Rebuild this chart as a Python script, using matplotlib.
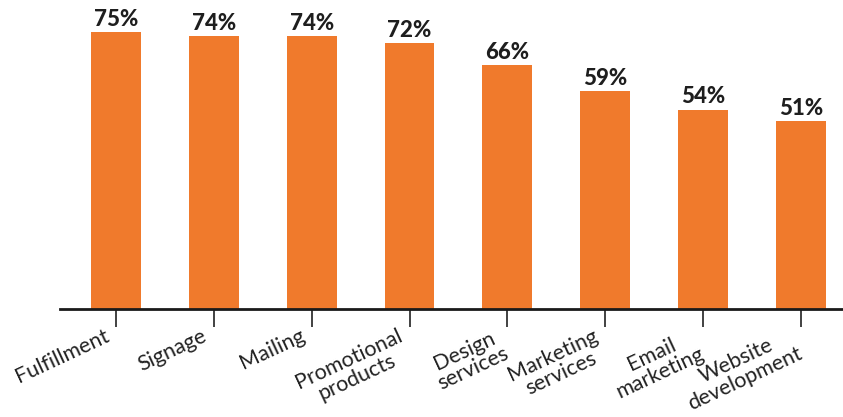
import matplotlib.pyplot as plt

# Data
categories = ["Fulfillment", "Signage", "Mailing", "Promotional\nproducts",
              "Design\nservices", "Marketing\nservices", "Email\nmarketing",
              "Website\ndevelopment"]
values = [75, 74, 74, 72, 66, 59, 54, 51]
value_labels = ["75%", "74%", "74%", "72%", "66%", "59%", "54%", "51%"]

plt.rcParams['font.family'] = ['Lato', 'DejaVu Sans']

fig = plt.figure(figsize=(8.43, 4.17), dpi=100)
ax = fig.add_axes([60 / 843, 1 - 309 / 417, 783 / 843, 309 / 417])

x = list(range(len(categories)))
ax.bar(x, values, width=0.51, color="#F07A2C", zorder=2)

for xi, v, lab in zip(x, values, value_labels):
    ax.annotate(lab, xy=(xi, v), xytext=(0, 1.5), textcoords="offset points",
                ha="center", va="bottom", fontsize=16, fontweight="black",
                color="#1e1e1e")

# Category labels, rotated and hung left of each tick
for xi, cat in zip(x, categories):
    ax.annotate(cat, xy=(xi, 0), xycoords=("data", "axes fraction"),
                xytext=(-9, -12), textcoords="offset points",
                rotation=25, rotation_mode="anchor", ha="right", va="top",
                multialignment="center", fontsize=15.5, color="#222222",
                linespacing=1.0)

ax.set_xlim(-0.572, 7.43)
ax.set_ylim(0, 75 * 309 / 277)
ax.set_xticks(x)
ax.set_xticklabels([])
ax.tick_params(axis="x", direction="out", length=13, width=1.3, color="#333333")
ax.set_yticks([])
for side in ["top", "right", "left"]:
    ax.spines[side].set_visible(False)
ax.spines["bottom"].set_linewidth(2)
ax.spines["bottom"].set_color("#1a1a1a")

fig.savefig("out.png", dpi=100)
